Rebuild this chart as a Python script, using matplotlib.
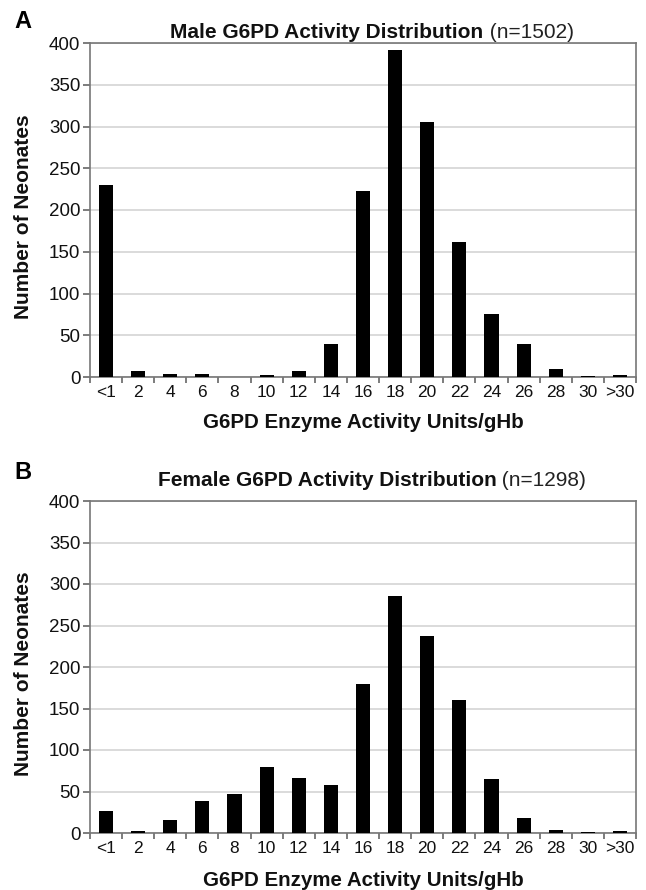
import matplotlib
matplotlib.use("Agg")
import matplotlib.pyplot as plt
import numpy as np

plt.rcParams['font.family'] = ['Liberation Sans', 'DejaVu Sans']

categories = ["<1", "2", "4", "6", "8", "10", "12", "14", "16", "18", "20", "22", "24", "26", "28", "30", ">30"]
male_counts = [230, 7, 3, 3, 0, 2, 7, 40, 223, 392, 305, 162, 75, 39, 10, 1, 2]
female_counts = [27, 2, 16, 38, 47, 80, 66, 58, 179, 285, 237, 160, 65, 18, 4, 1, 2]
yticks = [0, 50, 100, 150, 200, 250, 300, 350, 400]

W, H = 646, 890
fig = plt.figure(figsize=(W / 100, H / 100), dpi=100)

def panel(top, bottom, counts, title, nlabel, letter, letter_y, title_y, xlabel_y):
    left, right = 90, 636
    ax = fig.add_axes([left / W, 1 - bottom / H, (right - left) / W, (bottom - top) / H])
    x = np.arange(len(categories))
    ax.bar(x, counts, width=0.44, color='black', zorder=3)
    ax.set_xlim(-0.5, len(categories) - 0.5)
    ax.set_ylim(0, 400)
    ax.set_yticks(yticks)
    ax.set_yticklabels([str(v) for v in yticks], fontsize=13.5, color='#111111')
    ax.yaxis.grid(True, color='#d4d4d4', linewidth=1.2, zorder=0)
    ax.set_xticks(x)
    ax.set_xticklabels(categories, fontsize=12.5, color='#111111')
    ax.tick_params(axis='x', length=0, pad=6)
    ax.set_xticks(np.arange(len(categories) + 1) - 0.5, minor=True)
    ax.tick_params(axis='x', which='minor', length=4, color='#666666', width=1.2)
    ax.tick_params(axis='y', length=5, color='#666666', width=1.2, pad=2)
    for s in ax.spines.values():
        s.set_color('#777777')
        s.set_linewidth(1.2)
    ylab_y = (top + bottom) / 2 + 7
    fig.text(24 / W, 1 - ylab_y / H, "Number of Neonates", rotation=90, fontsize=15,
             fontweight='bold', ha='center', va='center', color='#111111')
    fig.text(363 / W, 1 - xlabel_y / H, "G6PD Enzyme Activity Units/gHb",
             fontsize=14.8, fontweight='bold', ha='center', va='center', color='#111111')
    cx = 372
    t1 = fig.text(0, 1 - title_y / H, title, fontsize=15, fontweight='bold', ha='left', va='center',
                  color='#111111')
    fig.canvas.draw()
    r = fig.canvas.get_renderer()
    bb1 = t1.get_window_extent(r)
    t2 = fig.text(0, 1 - title_y / H, " " + nlabel, fontsize=15, ha='left', va='center', color='#222222')
    bb2 = t2.get_window_extent(r)
    total = bb1.width + bb2.width
    x0 = cx - total / 2
    t1.set_x(x0 / W)
    t2.set_x((x0 + bb1.width) / W)
    fig.text(14 / W, 1 - letter_y / H, letter, fontsize=17, fontweight='bold', ha='left', va='center')
    return ax

panel(43, 377, male_counts, "Male G6PD Activity Distribution", "(n=1502)", "A", 21, 32, 422)
panel(501, 833, female_counts, "Female G6PD Activity Distribution", "(n=1298)", "B", 472, 480, 880)

fig.savefig("out.png", dpi=100)
